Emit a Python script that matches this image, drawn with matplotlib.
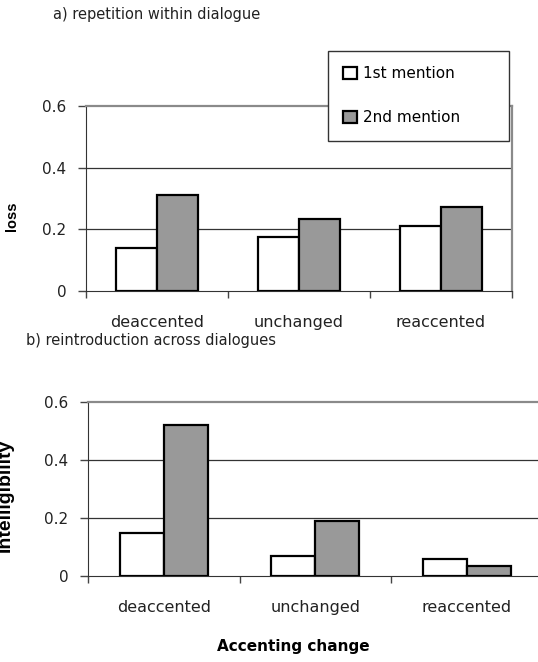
import numpy as np
from matplotlib import pyplot
from matplotlib.patches import Patch

categories = ['deaccented', 'unchanged', 'reaccented']
seriesNames = ['1st mention', '2nd mention']
lossFirst = [0.14, 0.175, 0.21]
lossSecond = [0.31, 0.233, 0.272]
intelFirst = [0.15, 0.07, 0.06]
intelSecond = [0.52, 0.19, 0.035]
yTicks = [0, 0.2, 0.4, 0.6]
yTickLabels = ['0', '0.2', '0.4', '0.6']

W, H = 538.0, 662.0
fillColors = ['white', '#999999']
spaced = 'DejaVu Sans'
plain = 'Liberation Sans'


def box(left, top, right, bottom):
	return [left / W, 1 - bottom / H, (right - left) / W, (bottom - top) / H]


def drawPanel(axis, first, second):
	centers = np.arange(len(categories)) + 0.5
	width = 0.29
	axis.bar(centers - width / 2, first, width, color=fillColors[0], edgecolor='black', linewidth=1.6, zorder=3)
	axis.bar(centers + width / 2, second, width, color=fillColors[1], edgecolor='black', linewidth=1.6, zorder=3)
	axis.set_xlim(0, 3)
	axis.set_ylim(0, 0.6)
	axis.set_yticks(yTicks)
	axis.set_yticklabels(yTickLabels, fontsize=11, family=spaced, color='#222222')
	axis.set_xticks(centers)
	axis.set_xticklabels(categories, fontsize=11.5, family=spaced, color='#222222')
	axis.set_xticks([0, 1, 2, 3], minor=True)
	axis.tick_params(axis='x', which='major', length=0, pad=17)
	axis.tick_params(axis='x', which='minor', length=5, width=1, color='#444444', direction='out')
	axis.tick_params(axis='y', length=6, width=1, color='#444444', pad=8)
	for y in yTicks[1:3]:
		axis.axhline(y, color='#333333', linewidth=0.9, zorder=1)
	axis.spines['left'].set_color('#333333')
	axis.spines['bottom'].set_color('#333333')
	axis.spines['top'].set_color('#8a8a8a')
	axis.spines['right'].set_color('#8a8a8a')
	axis.spines['top'].set_linewidth(1.6)
	axis.spines['right'].set_linewidth(1.6)


figure = pyplot.figure(figsize=(W / 100, H / 100), dpi=100)
axis1 = figure.add_axes(box(86, 106, 512, 291))
axis2 = figure.add_axes(box(88, 402, 542.5, 576))

drawPanel(axis1, lossFirst, lossSecond)
drawPanel(axis2, intelFirst, intelSecond)

figure.text(53 / W, 1 - 14 / H, 'a) repetition within dialogue', fontsize=10.5, family=spaced,
	ha='left', va='center', color='#222222')
figure.text(26 / W, 1 - 340 / H, 'b) reintroduction across dialogues', fontsize=10.5, family=spaced,
	ha='left', va='center', color='#222222')
figure.text(12 / W, 1 - 216 / H, 'loss', fontsize=10.5, family=plain, weight='bold',
	rotation=90, ha='center', va='center')
# the reference crops this label at the left edge
figure.text(14 / W, 1 - 495 / H, 'Intelligibility', fontsize=14, family=plain, weight='bold',
	rotation=90, ha='right', va='center')
figure.text(293 / W, 1 - 647 / H, 'Accenting change', fontsize=11, family=spaced, weight='bold',
	ha='center', va='center')

handles = [Patch(facecolor=fillColors[i], edgecolor='black', linewidth=1.6) for i in range(2)]
legend = axis1.legend(handles, seriesNames, loc='upper left', mode='expand',
	bbox_to_anchor=box(328, 51, 509, 147), bbox_transform=figure.transFigure,
	borderaxespad=0, fancybox=False, framealpha=1, edgecolor='#333333',
	handlelength=0.9, handleheight=0.9, handletextpad=0.4, labelspacing=1.9, borderpad=1.0,
	prop={'family': spaced, 'size': 11})
legend.get_frame().set_linewidth(1.0)
legend.set_zorder(10)

#pyplot.show()
pyplot.savefig('out.png', dpi=100)
